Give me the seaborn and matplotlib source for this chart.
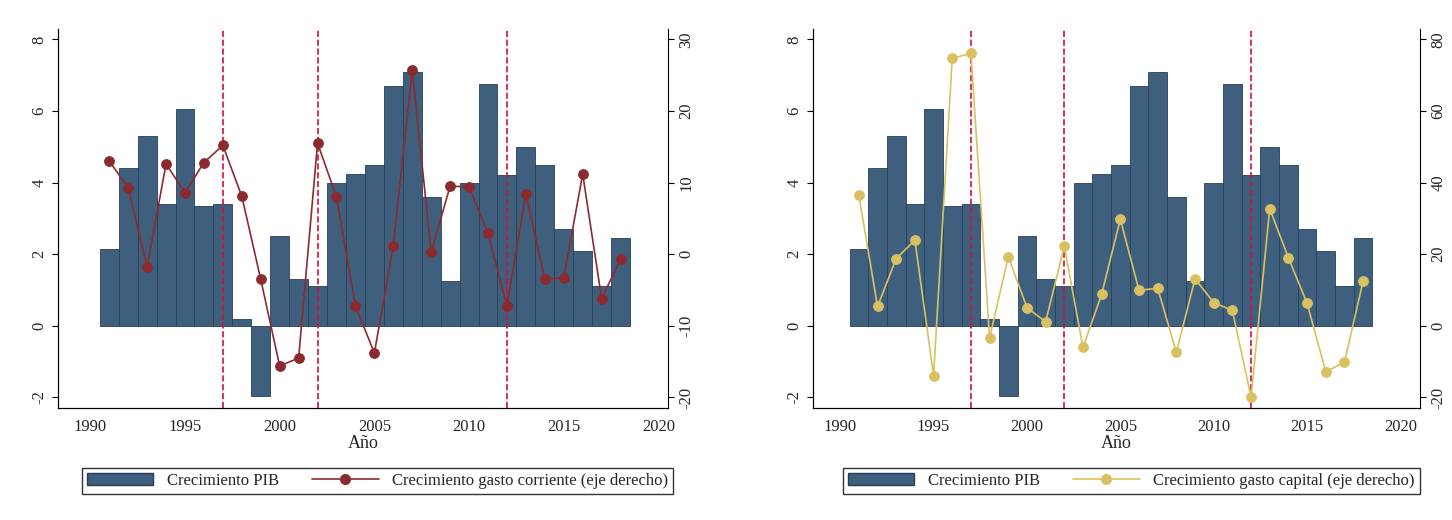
import matplotlib
matplotlib.use("Agg")
import matplotlib.pyplot as plt
import seaborn as sns
import numpy as np
from matplotlib.lines import Line2D
from matplotlib.patches import Patch

years = list(range(1991, 2019))
pib = [2.15, 4.4, 5.3, 3.4, 6.05, 3.35, 3.4, 0.2, -1.95, 2.5, 1.3, 1.1, 4.0, 4.25,
       4.5, 6.7, 7.1, 3.6, 1.25, 4.0, 6.75, 4.2, 5.0, 4.5, 2.7, 2.1, 1.1, 2.45]
gasto_corriente = [13.0, 9.3, -1.8, 12.6, 8.6, 12.8, 15.2, 8.1, -3.5, -15.6, -14.5, 15.5,
                   8.0, -7.2, -13.8, 1.2, 25.7, 0.3, 9.5, 9.4, 2.9, -7.2, 8.4, -3.5,
                   -3.3, 11.2, -6.2, -0.7]
gasto_capital = [36.4, 5.4, 18.8, 23.9, -13.9, 74.7, 76.1, -3.4, 19.3, 5.1, 1.1, 22.2,
                 -6.0, 8.8, 29.8, 9.9, 10.5, -7.4, 13.1, 6.5, 4.3, -19.9, 32.7, 19.0,
                 6.3, -12.8, -10.2, 12.5]
cortes = [1997, 2002, 2012]
xticks = [1990, 1995, 2000, 2005, 2010, 2015, 2020]

sns.set_style("white")
plt.rcParams['font.family'] = ['Liberation Serif', 'DejaVu Serif']
plt.rcParams['font.size'] = 13

fig = plt.figure(figsize=(14.52, 5.2), dpi=100)
bar_c = "#3f5f7f"
specs = [
    (0.04, 0.46, gasto_corriente, "#8b2b2f", (-20, 30, 10), (-2.3, 8.3), (-21.5, 31.5),
     "Crecimiento gasto corriente (eje derecho)", (1988.3, 2020.5)),
    (0.56, 0.978, gasto_capital, "#d9c162", (-20, 80, 20), (-2.3, 8.3), (-23, 83),
     "Crecimiento gasto capital (eje derecho)", (1988.55, 2021.05)),
]
for (l, r, serie, col, rt, yl, yr, lab, xl) in specs:
    ax = fig.add_axes([l, 0.215, r - l, 0.73])
    ax.bar(years, pib, width=1.0, color=bar_c, edgecolor="#2a3f55", linewidth=0.6)
    ax.set_xlim(*xl)
    ax.set_ylim(*yl)
    ax.set_yticks([-2, 0, 2, 4, 6, 8])
    ax.set_yticklabels(["-2", "0", "2", "4", "6", "8"], rotation=90, va="center")
    ax.set_xticks(xticks)
    ax.set_xlabel("Año", labelpad=0)
    for c in cortes:
        ax.axvline(c, color="#d0103a", ls="--", lw=1.2)
    ax2 = ax.twinx()
    sns.lineplot(x=years, y=serie, ax=ax2, color=col, marker="o", markersize=7,
                 markeredgecolor=col, lw=1.2)
    ax2.set_ylim(*yr)
    ticks = list(range(rt[0], rt[1] + 1, rt[2]))
    ax2.set_yticks(ticks)
    ax2.set_yticklabels([str(t) for t in ticks], rotation=90, va="center")
    for a in (ax, ax2):
        a.tick_params(direction="out", length=4, color="black", labelsize=12)
        for s in a.spines.values():
            s.set_color("black"); s.set_linewidth(0.8)
        a.spines["top"].set_visible(False)
    ax.spines["right"].set_visible(False)
    handles = [Patch(facecolor=bar_c, edgecolor="#2a3f55"),
               Line2D([], [], color=col, marker="o", markersize=7, lw=1.2)]
    fig.legend(handles, ["Crecimiento PIB", lab], loc="center",
               bbox_to_anchor=((l + r) / 2 + 0.01, 0.075), ncol=2, frameon=True,
               fancybox=False, edgecolor="black", fontsize=12, handlelength=4.0,
               columnspacing=2.0, borderpad=0.3)

fig.savefig("out.png", dpi=100, facecolor="white")
